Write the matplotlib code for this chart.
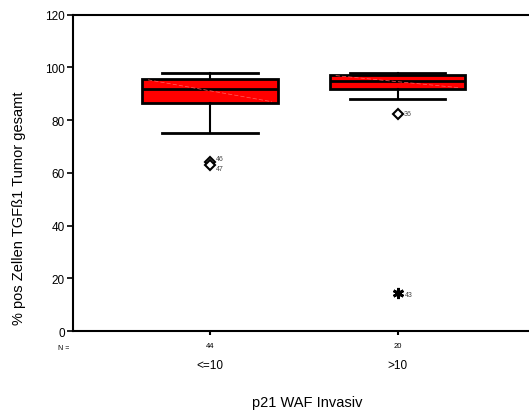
import matplotlib.pyplot as plt

plt.rcParams['font.family'] = ['Liberation Sans', 'DejaVu Sans']

groups = ['<=10', '>10']
counts = [44, 20]
q1 = [86.4, 91.7]
med = [91.7, 94.8]
q3 = [95.7, 97.3]
whislo = [75.0, 87.9]
whishi = [98.0, 98.0]
# outliers (circle-ish) and extremes (star), with case numbers
out_group = [1, 1, 2]
out_value = [64.3, 62.9, 82.5]
out_case = ['46', '47', '36']
out_shift = [1.0, -1.2, 0.0]
ext_group = [2]
ext_value = [14.5]
ext_case = ['43']

fig = plt.figure(figsize=(5.29, 4.14), dpi=100)
ax = fig.add_axes([0.138, 0.198, 0.862, 0.764])

stats = []
for i in range(len(groups)):
    stats.append({'med': med[i], 'q1': q1[i], 'q3': q3[i],
                  'whislo': whislo[i], 'whishi': whishi[i], 'fliers': []})

ax.bxp(stats, positions=[1, 2], widths=0.723, patch_artist=True,
       showfliers=False, showcaps=True,
       boxprops=dict(facecolor='red', edgecolor='black', linewidth=2),
       medianprops=dict(color='black', linewidth=2),
       whiskerprops=dict(color='black', linewidth=1.5),
       capprops=dict(color='black', linewidth=2),
       capwidths=0.51)

# faint sheen line across each box
for i in range(len(groups)):
    x0, x1 = i + 1 - 0.33, i + 1 + 0.33
    ax.plot([x0, x1], [q3[i] - 0.4, q1[i] + 0.6], color='#ff6060',
            lw=0.5, ls=(0, (6, 3)), zorder=3)

ax.plot(out_group, out_value, linestyle='none', marker='D', markersize=5,
        markerfacecolor='white', markeredgecolor='black', markeredgewidth=1.5)
for g, v, c, s in zip(out_group, out_value, out_case, out_shift):
    ax.text(g + 0.03, v + s, c, fontsize=5, color='#444444', va='center')

ax.plot(ext_group, ext_value, linestyle='none', marker=(6, 2, 0),
        markersize=8, color='black', markeredgewidth=2)
for g, v, c in zip(ext_group, ext_value, ext_case):
    ax.text(g + 0.04, v - 0.5, c, fontsize=5, color='#444444', va='center')

ax.set_xlim(0.27, 2.70)
ax.set_ylim(0, 120)
ax.set_yticks([0, 20, 40, 60, 80, 100, 120])
ax.tick_params(axis='y', labelsize=8.5, length=4, width=1.2, pad=2)
ax.set_xticks([1, 2])
ax.set_xticklabels([str(c) for c in counts], fontsize=5.5)
ax.tick_params(axis='x', length=3, width=1.5, pad=5)

for i, g in enumerate(groups):
    ax.text(i + 1, -13, g, ha='center', va='center', fontsize=8.5)
ax.text(0.22, -6.2, 'N =', ha='center', va='center', fontsize=5)

ax.spines['right'].set_visible(False)
for s in ['left', 'bottom', 'top']:
    ax.spines[s].set_linewidth(1.5)

ax.set_ylabel('% pos Zellen TGFß1 Tumor gesamt', fontsize=10.5)
ax.yaxis.set_label_coords(-0.103, 0.39)
fig.text(0.58, 0.01, 'p21 WAF Invasiv', ha='center', va='bottom', fontsize=10.5)

fig.savefig('out.png', dpi=100)
